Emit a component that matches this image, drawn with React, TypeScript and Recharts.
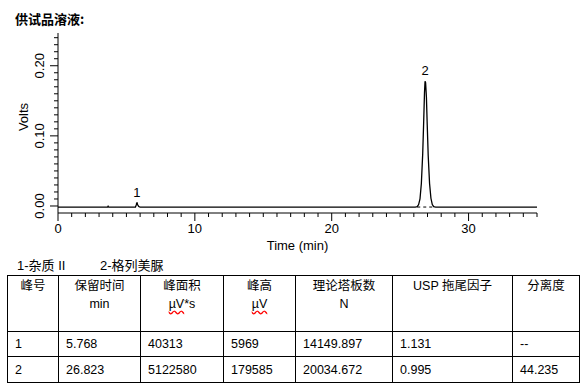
import React from 'react';
import { LineChart, Line, XAxis, YAxis, ReferenceDot, Label } from 'recharts';

// chromatogram trace (time in min, signal in volts)
const signal = [
  { t: 0, v: -0.0015 },
  { t: 3.62, v: -0.0015 },
  { t: 3.66, v: -0.0003 },
  { t: 3.7, v: -0.0015 },
  { t: 5.66, v: -0.0015 },
  { t: 5.72, v: 0.0015 },
  { t: 5.75, v: 0.0042 },
  { t: 5.78, v: 0.0045 },
  { t: 5.82, v: 0.0018 },
  { t: 5.9, v: -0.0008 },
  { t: 6.0, v: -0.0015 },
  { t: 26.1, v: -0.0015 },
  { t: 26.25, v: -0.001 },
  { t: 26.35, v: 0.002 },
  { t: 26.45, v: 0.01 },
  { t: 26.55, v: 0.032 },
  { t: 26.65, v: 0.075 },
  { t: 26.72, v: 0.12 },
  { t: 26.78, v: 0.162 },
  { t: 26.82, v: 0.178 },
  { t: 26.86, v: 0.176 },
  { t: 26.92, v: 0.155 },
  { t: 26.98, v: 0.115 },
  { t: 27.05, v: 0.072 },
  { t: 27.15, v: 0.032 },
  { t: 27.25, v: 0.011 },
  { t: 27.35, v: 0.002 },
  { t: 27.45, v: -0.001 },
  { t: 27.6, v: -0.0015 },
  { t: 35, v: -0.0015 },
];

const integrationBaseline = [
  { t: 26.25, v: -0.0015 },
  { t: 27.45, v: -0.0015 },
];

const peaks = [
  { name: '1', t: 5.768, v: 0.0045 },
  { name: '2', t: 26.823, v: 0.178 },
];

const xTicks = [0, 1, 2, 3, 4, 5, 6, 7, 8, 9, 10, 11, 12, 13, 14, 15, 16, 17, 18, 19, 20, 21, 22, 23, 24, 25, 26, 27, 28, 29, 30, 31, 32, 33, 34, 35];
const xMajor = [0, 10, 20, 30];
const yTicks = [0, 0.01, 0.02, 0.03, 0.04, 0.05, 0.06, 0.07, 0.08, 0.09, 0.1, 0.11, 0.12, 0.13, 0.14, 0.15, 0.16, 0.17, 0.18, 0.19, 0.2, 0.21, 0.22, 0.23, 0.24];
const yMajor = [0, 0.1, 0.2];

const peakNames = ['1-杂质 II', '2-格列美脲'];

const headers = ['峰号', '保留时间', '峰面积', '峰高', '理论塔板数', 'USP 拖尾因子', '分离度'];
const colWidths = [51, 82, 83, 72, 97, 120, 67];
const tableRows = [
  ['1', '5.768', '40313', '5969', '14149.897', '1.131', '--'],
  ['2', '26.823', '5122580', '179585', '20034.672', '0.995', '44.235'],
];

const FONT = '"Liberation Sans", Arial, "Noto Sans CJK SC", sans-serif';

const XTick = (props: any) => {
  const { x, y, payload } = props;
  const major = xMajor.includes(payload.value);
  return (
    <g>
      <line x1={x} y1={y} x2={x} y2={y + (major ? 8 : 4)} stroke="#000" />
      {major && (
        <text x={x} y={y + 15} textAnchor="middle" dominantBaseline="central" fontSize={13} fill="#000" fontFamily={FONT}>
          {payload.value}
        </text>
      )}
    </g>
  );
};

const YTick = (props: any) => {
  const { x, y, payload } = props;
  const major = yMajor.some((m) => Math.abs(m - payload.value) < 1e-6);
  return (
    <g>
      <line x1={x - (major ? 8 : 4)} y1={y} x2={x} y2={y} stroke="#000" />
      {major && (
        <text
          x={x - 18}
          y={y}
          transform={`rotate(-90 ${x - 18} ${y})`}
          textAnchor="middle"
          dominantBaseline="central"
          fontSize={13}
          fill="#000"
          fontFamily={FONT}
        >
          {payload.value.toFixed(2)}
        </text>
      )}
    </g>
  );
};

const unitCell = (i: number) => {
  const wavy = { textDecoration: 'underline wavy red', textUnderlineOffset: 2 } as React.CSSProperties;
  if (i === 1) return 'min';
  if (i === 2) return (<span><span style={wavy}>µV</span>*s</span>);
  if (i === 3) return <span style={wavy}>µV</span>;
  if (i === 4) return 'N';
  return '';
};

export default function App() {
  const cell: React.CSSProperties = { border: '1px solid #000', padding: 0 };
  return (
    <div style={{ position: 'absolute', left: 0, top: 0, width: 586, height: 388, background: '#fff', fontFamily: FONT, color: '#000' }}>
      <div style={{ position: 'absolute', left: 15, top: 9, fontSize: 13, fontWeight: 'bold', fontFamily: '"Noto Sans CJK SC", sans-serif' }}>
        供试品溶液:
      </div>
      <LineChart width={586} height={260} margin={{ top: 33, right: 49, bottom: 17, left: 0 }} style={{ position: 'absolute', left: 0, top: 0 }}>
        <XAxis
          type="number"
          dataKey="t"
          domain={[0, 35]}
          ticks={xTicks}
          interval={0}
          tickSize={0}
          tickMargin={0}
          tickLine={false}
          tick={<XTick />}
          axisLine={{ stroke: '#000' }}
          height={30}
          allowDuplicatedCategory={false}
        >
          <Label
            content={(p: any) => (
              <text x={p.viewBox.x + p.viewBox.width / 2} y={245} textAnchor="middle" dominantBaseline="central" fontSize={13} fontFamily={FONT} fill="#000">
                Time (min)
              </text>
            )}
          />
        </XAxis>
        <YAxis
          type="number"
          domain={[-0.01, 0.2467]}
          ticks={yTicks}
          interval={0}
          tickSize={0}
          tickMargin={0}
          tickLine={false}
          tick={<YTick />}
          axisLine={{ stroke: '#000' }}
          width={58}
        >
          <Label
            content={() => (
              <text x={23} y={117} transform="rotate(-90 23 117)" textAnchor="middle" dominantBaseline="central" fontSize={13} fontFamily={FONT} fill="#000">
                Volts
              </text>
            )}
          />
        </YAxis>
        <Line data={integrationBaseline} dataKey="v" stroke="#000" strokeWidth={1} strokeDasharray="3 3" dot={false} isAnimationActive={false} type="linear" />
        <Line data={signal} dataKey="v" stroke="#000" strokeWidth={1.3} dot={false} isAnimationActive={false} type="linear" />
        {peaks.map((p) => (
          <ReferenceDot
            key={p.name}
            x={p.t}
            y={p.v}
            r={1}
            fill="none"
            stroke="none"
            label={{ value: p.name, position: 'top', offset: 5, fontSize: 13, fill: '#000', fontFamily: FONT }}
          />
        ))}
      </LineChart>
      <div style={{ position: 'absolute', left: 17, top: 255, fontSize: 13, whiteSpace: 'pre' }}>
        <span style={{ position: 'absolute', left: 0 }}>{peakNames[0]}</span>
        <span style={{ position: 'absolute', left: 83 }}>{peakNames[1]}</span>
      </div>
      <table style={{ position: 'absolute', left: 7, top: 275, borderCollapse: 'collapse', tableLayout: 'fixed', width: 572, fontSize: 12.5 }}>
        <colgroup>
          {colWidths.map((w, i) => (
            <col key={i} style={{ width: w }} />
          ))}
        </colgroup>
        <tbody>
          <tr style={{ height: 56 }}>
            {headers.map((h, i) => (
              <td key={i} style={{ ...cell, verticalAlign: 'top', textAlign: 'center', paddingTop: 1, lineHeight: '18px' }}>
                <div>{h}</div>
                <div>{unitCell(i)}</div>
              </td>
            ))}
          </tr>
          {tableRows.map((r, ri) => (
            <tr key={ri} style={{ height: ri === 0 ? 25 : 26 }}>
              {r.map((c, ci) => (
                <td key={ci} style={{ ...cell, paddingLeft: 7, verticalAlign: 'middle' }}>
                  {c}
                </td>
              ))}
            </tr>
          ))}
        </tbody>
      </table>
    </div>
  );
}
